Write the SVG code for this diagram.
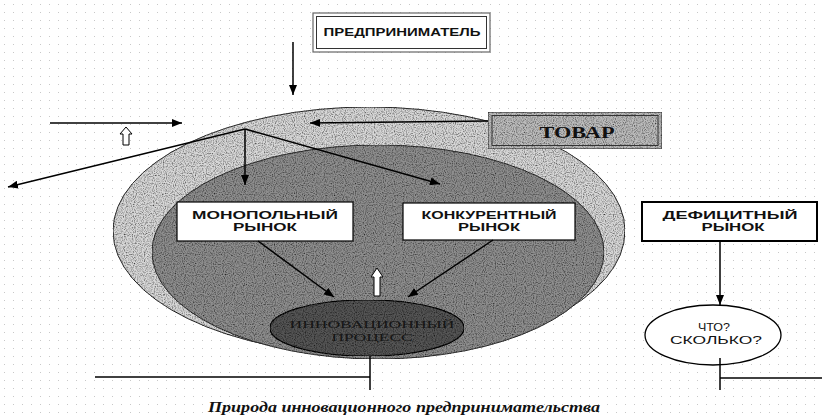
<svg xmlns="http://www.w3.org/2000/svg" width="822" height="417" viewBox="0 0 822 417">
<style>
.box{fill:#fff;stroke:#000;stroke-width:1.2}
.lbl{font-family:"Liberation Sans",Arial,sans-serif;font-weight:bold;font-size:10px;fill:#111;text-anchor:middle}
.ln{stroke:#000;stroke-width:1.5;fill:none}
.hollow{fill:#fff;stroke:#000;stroke-width:1}
.serif{font-family:"Liberation Serif","Times New Roman",serif}
</style>
<defs>
<pattern id="dots" width="9" height="8" patternUnits="userSpaceOnUse">
<rect x="4" y="4" width="1" height="1" fill="#c8c8c8"/>
</pattern>
<marker id="ah" viewBox="0 0 10 8" refX="10" refY="4" markerWidth="10" markerHeight="8" markerUnits="userSpaceOnUse" orient="auto">
<path d="M0,0 L10,4 L0,8 z" fill="#000"/>
</marker>
<filter id="grain" x="0" y="0" width="100%" height="100%">
<feTurbulence type="fractalNoise" baseFrequency="0.9" numOctaves="1" seed="3" result="n"/>
<feColorMatrix in="n" type="matrix" values="0 0 0 0 0  0 0 0 0 0  0 0 0 0 0  2.2 0 0 0 -0.9" result="sp"/>
<feComposite in="sp" in2="SourceGraphic" operator="in" result="specks"/>
<feMerge><feMergeNode in="SourceGraphic"/><feMergeNode in="specks"/></feMerge>
</filter>
</defs>
<rect width="822" height="417" fill="#fff"/>
<rect width="822" height="417" fill="url(#dots)"/>

<g id="market-outer">
<ellipse cx="369" cy="231" rx="256" ry="124" fill="#d8d8d8" stroke="#333" stroke-width="1" filter="url(#grain)"/>
</g>
<g id="market-inner">
<ellipse cx="378" cy="252" rx="226" ry="107" fill="#8e8e8e" stroke="#333" stroke-width="1" filter="url(#grain)"/>
</g>

<g id="entrepreneur">
<rect x="313" y="13" width="177" height="39" fill="#fff" stroke="#666" stroke-width="1.2"/>
<rect x="316.5" y="16.5" width="170" height="32" fill="#fff" stroke="#333" stroke-width="1"/>
<text class="lbl" x="402" y="36" font-size="11" textLength="157" lengthAdjust="spacingAndGlyphs">ПРЕДПРИНИМАТЕЛЬ</text>
</g>

<g id="goods">
<rect x="488" y="112" width="174" height="37" fill="#bcbcbc" stroke="#444" stroke-width="1.2" filter="url(#grain)"/>
<rect x="492" y="115.5" width="166" height="30" fill="none" stroke="#333" stroke-width="1"/>
<text class="serif" x="577" y="138" font-weight="bold" font-size="16" fill="#111" text-anchor="middle" textLength="75" lengthAdjust="spacingAndGlyphs">ТОВАР</text>
</g>

<g id="monopoly">
<rect class="box" x="177" y="202" width="176" height="39"/>
<text class="lbl" x="265" y="219" textLength="146" lengthAdjust="spacingAndGlyphs">МОНОПОЛЬНЫЙ</text>
<text class="lbl" x="265" y="231" textLength="64" lengthAdjust="spacingAndGlyphs">РЫНОК</text>
</g>

<g id="competitive">
<rect class="box" x="403" y="203" width="172" height="37"/>
<text class="lbl" x="489" y="219" textLength="135" lengthAdjust="spacingAndGlyphs">КОНКУРЕНТНЫЙ</text>
<text class="lbl" x="489" y="231" textLength="62" lengthAdjust="spacingAndGlyphs">РЫНОК</text>
</g>

<g id="deficit">
<rect x="642" y="202" width="175" height="39" fill="#fff" stroke="#000" stroke-width="2"/>
<text class="lbl" x="730" y="219" textLength="135" lengthAdjust="spacingAndGlyphs">ДЕФИЦИТНЫЙ</text>
<text class="lbl" x="733" y="231" textLength="63" lengthAdjust="spacingAndGlyphs">РЫНОК</text>
</g>

<g id="innovation">
<ellipse cx="367" cy="328" rx="97" ry="28" fill="#555" stroke="#111" stroke-width="1.2" filter="url(#grain)"/>
<text class="serif" x="372" y="328" font-size="11" fill="#161616" text-anchor="middle" textLength="165" lengthAdjust="spacingAndGlyphs">ИННОВАЦИОННЫЙ</text>
<text class="serif" x="372" y="341" font-size="11" fill="#161616" text-anchor="middle" textLength="81" lengthAdjust="spacingAndGlyphs">ПРОЦЕСС</text>
</g>

<g id="what-how-much">
<ellipse cx="713" cy="335" rx="68" ry="30" fill="#fff" stroke="#000" stroke-width="1.3"/>
<text x="714" y="331" font-family="'Liberation Sans',Arial,sans-serif" font-size="11" fill="#111" text-anchor="middle" textLength="32" lengthAdjust="spacingAndGlyphs">ЧТО?</text>
<text x="716" y="344" font-family="'Liberation Sans',Arial,sans-serif" font-size="11" fill="#111" text-anchor="middle" textLength="92" lengthAdjust="spacingAndGlyphs">СКОЛЬКО?</text>
</g>

<g id="connectors">
<line class="ln" x1="293" y1="42" x2="293" y2="95" stroke-width="2" marker-end="url(#ah)"/>
<line class="ln" x1="50" y1="123" x2="182" y2="123" marker-end="url(#ah)"/>
<line class="ln" x1="488" y1="121" x2="310" y2="123" marker-end="url(#ah)"/>
<line class="ln" x1="245" y1="129" x2="8" y2="187" marker-end="url(#ah)"/>
<line class="ln" x1="245" y1="129" x2="245" y2="185" marker-end="url(#ah)"/>
<line class="ln" x1="245" y1="129" x2="440" y2="184" marker-end="url(#ah)"/>
<line class="ln" x1="258" y1="241" x2="334" y2="297" marker-end="url(#ah)"/>
<line class="ln" x1="493" y1="240" x2="408" y2="297" marker-end="url(#ah)"/>
<line class="ln" x1="720" y1="241" x2="720" y2="305" stroke-width="2.5" marker-end="url(#ah)"/>
<line class="ln" x1="95" y1="377" x2="370" y2="377"/>
<line class="ln" x1="370" y1="356" x2="370" y2="390"/>
<line class="ln" x1="720" y1="358" x2="720" y2="390"/>
<line class="ln" x1="720" y1="378" x2="822" y2="378"/>
<path class="hollow" d="M123,145 L123,134 L120,134 L126,127 L132,134 L129,134 L129,145 Z"/>
<path class="hollow" d="M374,296 L374,277 L371,277 L377,268 L383,277 L380,277 L380,296 Z"/>
</g>

<text class="serif" x="404" y="412" font-style="italic" font-weight="bold" font-size="14" fill="#111" text-anchor="middle" textLength="392" lengthAdjust="spacingAndGlyphs">Природа инновационного предпринимательства</text>
</svg>
